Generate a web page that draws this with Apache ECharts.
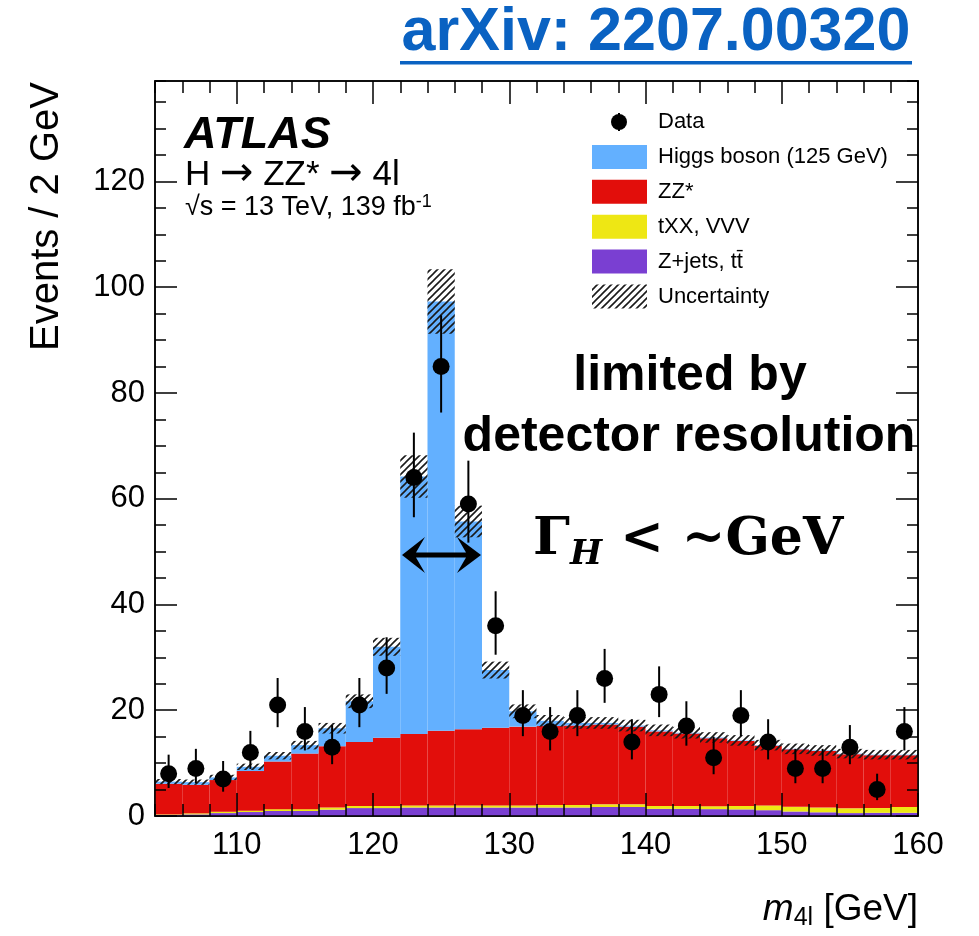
<!DOCTYPE html>
<html>
<head>
<meta charset="utf-8">
<script src="https://cdn.jsdelivr.net/npm/echarts@6/dist/echarts.min.js"></script>
<style>
html,body{margin:0;padding:0;background:#fff;}
#chart{width:979px;height:936px;}
</style>
</head>
<body>
<div id="chart"></div>
<script>
// ---- data ----
const binLow = [104,106,108,110,112,114,116,118,120,122,124,126,128,130,132,134,136,138,140,142,144,146,148,150,152,154,156,158];
const binWidth = 2;
const dataCounts = [8,9,7,12,21,16,13,21,28,64,85,59,36,19,16,19,26,14,23,17,11,19,14,9,9,13,5,16];
const dataLow  = [5.3,6.2,4.6,8.9,16.8,12.4,9.8,16.8,23.1,56.5,76.3,51.7,30.5,15.1,12.4,15.1,21.4,10.7,18.7,13.3,7.9,15.1,10.7,6.2,6.2,9.8,3.0,12.4];
const dataHigh = [11.6,12.7,10.4,16.1,26.1,20.6,17.2,26.1,33.8,72.5,94.7,67.2,42.5,23.8,20.6,23.8,31.6,18.3,28.3,21.7,15.0,23.8,18.3,12.7,12.7,17.2,8.0,20.6];
const zjets = [0.2,0.3,0.55,0.75,0.95,0.95,1.2,1.5,1.5,1.6,1.6,1.6,1.6,1.6,1.6,1.6,1.7,1.7,1.35,1.35,1.3,1.25,1.1,0.85,0.7,0.55,0.6,0.6];
const txxVVV = [0.1,0.2,0.25,0.25,0.35,0.35,0.4,0.4,0.4,0.4,0.4,0.4,0.4,0.4,0.5,0.5,0.5,0.5,0.55,0.55,0.55,0.65,0.9,0.9,0.9,0.9,0.9,1.1];
const zzStar = [5.8,5.4,6.0,7.5,9.0,10.5,11.6,12.1,12.9,13.5,14.1,14.4,14.7,14.9,14.9,15.0,15.1,14.7,14.1,13.7,12.85,12.3,11.3,10.85,10.7,10.25,10.0,9.8];
const higgs = [0.4,0.5,0.5,0.8,1.1,1.6,3.4,7.7,17.2,48.7,81.2,39.3,10.9,2.9,1.0,0.5,0.3,0.2,0.2,0.15,0.15,0.1,0.1,0.1,0.1,0.1,0.1,0.1];
const uncertainty = [0.5,0.5,0.5,0.6,0.7,0.8,1.0,1.3,1.7,4.0,6.1,3.0,1.6,1.3,1.1,1.1,1.1,1.1,1.1,1.1,1.0,1.0,1.0,1.0,1.0,0.9,0.9,0.9];
const xMajorTicks = [110,120,130,140,150,160];
const yMajorTicks = [0,20,40,60,80,100,120];
const legendNames = ['Data','Higgs boson (125 GeV)','ZZ*','tXX, VVV','Z+jets, tt\u0304','Uncertainty'];

const colors = {higgs:'#63B0FF', zz:'#E20E0B', txx:'#EEE714', zj:'#7A3FD2'};
const FONT = 'Liberation Sans, Arial, Helvetica, sans-serif';
const SERIF = 'DejaVu Serif, Liberation Serif, serif';

// hatch pattern
const hatch = document.createElement('canvas');
hatch.width = 7; hatch.height = 7;
(function(){
  const c = hatch.getContext('2d');
  c.strokeStyle = '#1a1a1a'; c.lineWidth = 1.6;
  c.beginPath();
  c.moveTo(-1,8); c.lineTo(8,-1);
  c.moveTo(-1,1); c.lineTo(1,-1);
  c.moveTo(6,8); c.lineTo(8,6);
  c.stroke();
})();
const hatchFill = {image: hatch, repeat: 'repeat'};

// build stacked layers
const layers = [
  {name:'Z+jets, tt\u0304', vals: zjets, color: colors.zj},
  {name:'tXX, VVV', vals: txxVVV, color: colors.txx},
  {name:'ZZ*', vals: zzStar, color: colors.zz},
  {name:'Higgs boson (125 GeV)', vals: higgs, color: colors.higgs}
];
const base = binLow.map(()=>0);
const series = [];
function rectRender(fill){
  return function(params, api){
    const a = api.coord([api.value(0), api.value(3)]);
    const b = api.coord([api.value(1), api.value(2)]);
    return {type:'rect', shape:{x:a[0], y:a[1], width:b[0]-a[0], height:b[1]-a[1]}, style:{fill: fill}};
  };
}
layers.forEach(L=>{
  const d = binLow.map((x,i)=>{ const y0 = base[i]; const y1 = y0 + L.vals[i]; base[i] = y1; return [x, x+binWidth, y0, y1]; });
  series.push({type:'custom', name:L.name, xAxisIndex:0, yAxisIndex:0, renderItem: rectRender(L.color), data:d, encode:{x:[0,1], y:[2,3]}, clip:true, z:1});
});
const totals = base.slice();
series.push({type:'custom', name:'Uncertainty', xAxisIndex:0, yAxisIndex:0, renderItem: rectRender(hatchFill),
  data: binLow.map((x,i)=>[x, x+binWidth, totals[i]-uncertainty[i], totals[i]+uncertainty[i]]), encode:{x:[0,1], y:[2,3]}, clip:true, z:1});
series.push({type:'custom', name:'Data errors', xAxisIndex:0, yAxisIndex:0,
  renderItem: function(params, api){
    const a = api.coord([api.value(0), api.value(1)]);
    const b = api.coord([api.value(0), api.value(2)]);
    return {type:'line', shape:{x1:a[0], y1:a[1], x2:b[0], y2:b[1]}, style:{stroke:'#000', lineWidth:2}};
  },
  data: binLow.map((x,i)=>[x+binWidth/2, dataLow[i], dataHigh[i]]), encode:{x:0, y:[1,2]}, z:1});
series.push({type:'scatter', name:'Data', xAxisIndex:0, yAxisIndex:0, symbol:'circle', symbolSize:17,
  itemStyle:{color:'#000', opacity:1}, data: binLow.map((x,i)=>[x+binWidth/2, dataCounts[i]]), z:1, silent:true});

function xAx(pos, major, labels){
  const o = {type:'value', min:104, max:160, interval:2, position:pos, offset:0, z:5, splitLine:{show:false},
    axisLine: {show: !major, onZero:false, lineStyle:{color:'#000', width:1.5}},
    axisTick:{show:true, inside:true, length: major?23:12, lineStyle:{color:'#000', width:1.5}},
    axisLabel:{show:false}};
  if (major) o.axisTick.customValues = xMajorTicks;
  if (labels) o.axisLabel = {show:true, customValues: xMajorTicks, color:'#000', fontSize:31, fontFamily:FONT, margin:14};
  return o;
}
function yAx(pos, major, labels){
  const o = {type:'value', min:0, max:139, interval:5, position:pos, offset:0, z:5, splitLine:{show:false},
    axisLine: {show: !major, onZero:false, lineStyle:{color:'#000', width:1.5}},
    axisTick:{show:true, inside:true, length: major?22:11, lineStyle:{color:'#000', width:1.5}},
    axisLabel:{show:false}};
  if (major) o.axisTick.customValues = yMajorTicks;
  if (labels) o.axisLabel = {show:true, customValues: yMajorTicks, color:'#000', fontSize:31, fontFamily:FONT, margin:10};
  return o;
}

// legend graphics
const legendX = 592, legendTextX = 658, legendY0 = 122, legendStep = 34.9;
const legendGraphics = [];
legendNames.forEach((nm,i)=>{
  const cy = legendY0 + i*legendStep;
  if (i===0){
    legendGraphics.push({type:'line', shape:{x1:619, y1:cy-9, x2:619, y2:cy+9}, style:{stroke:'#000', lineWidth:2}});
    legendGraphics.push({type:'circle', shape:{cx:619, cy:cy, r:8}, style:{fill:'#000'}});
  } else {
    const fill = i===1?colors.higgs : i===2?colors.zz : i===3?colors.txx : i===4?colors.zj : hatchFill;
    legendGraphics.push({type:'rect', shape:{x:legendX, y:cy-12, width:55, height:24}, style:{fill: fill}});
  }
  legendGraphics.push({type:'text', x:legendTextX, y:cy, style:{text:nm, font:'22px '+FONT, fill:'#000', verticalAlign:'middle', align:'left'}});
});

const option = {
  animation:false,
  backgroundColor:'#fff',
  grid:{left:155, right:61, top:81, bottom:120, show:true, borderColor:'#000', borderWidth:1.5, backgroundColor:'transparent'},
  xAxis:[xAx('bottom', false, true), xAx('bottom', true, false), xAx('top', false, false), xAx('top', true, false)],
  yAxis:[yAx('left', false, true), yAx('left', true, false), yAx('right', false, false), yAx('right', true, false)],
  series: series,
  graphic: [
    {type:'text', x:656, y:33, z:10, style:{text:'arXiv: 2207.00320', font:'bold 61px '+FONT, fill:'#0A62C2', align:'center', verticalAlign:'middle'}},
    {type:'rect', z:10, shape:{x:400, y:61, width:512, height:3.5}, style:{fill:'#0A62C2'}},
    {type:'text', x:47, y:82, rotation:Math.PI/2, style:{text:'Events / 2 GeV', font:'40px '+FONT, fill:'#000', align:'right', verticalAlign:'middle'}},
    {type:'text', x:918, y:910, style:{text:'{i|m}{s|4l}{t| [GeV]}', fill:'#000', align:'right', verticalAlign:'middle',
      rich:{i:{font:'italic 37px '+FONT, fill:'#000', verticalAlign:'middle', lineHeight:42},
            s:{font:'normal 25px '+FONT, fill:'#000', verticalAlign:'bottom', lineHeight:42},
            t:{font:'normal 37px '+FONT, fill:'#000', verticalAlign:'middle', lineHeight:42}}}},
    {type:'text', x:184, y:136, z:10, style:{text:'ATLAS', font:'italic bold 45px '+FONT, fill:'#000', align:'left', verticalAlign:'middle'}},
    {type:'text', x:185, y:175, z:10, style:{text:'{t|H }{a|\u2192}{t| ZZ* }{a|\u2192}{t| 4l}', fill:'#000', align:'left', verticalAlign:'middle',
      rich:{t:{font:'normal 35px '+FONT, fill:'#000', verticalAlign:'middle', lineHeight:40},
            a:{font:'normal 40px DejaVu Sans, sans-serif', fill:'#000', verticalAlign:'middle', lineHeight:40}}}},
    {type:'text', x:185, y:208, z:10, style:{text:'{t|\u221As = 13 TeV, 139 fb}{sup|-1}', fill:'#000', align:'left', verticalAlign:'middle',
      rich:{t:{font:'normal 27px '+FONT, fill:'#000', verticalAlign:'middle', lineHeight:30},
            sup:{font:'normal 18px '+FONT, fill:'#000', verticalAlign:'top', lineHeight:30}}}},
    {type:'text', x:690, y:376, z:10, style:{text:'limited by', font:'bold 50px '+FONT, fill:'#000', align:'center', verticalAlign:'middle'}},
    {type:'text', x:689, y:437, z:10, style:{text:'detector resolution', font:'bold 50px '+FONT, fill:'#000', align:'center', verticalAlign:'middle'}},
    {type:'text', x:533, y:540, z:10, style:{text:'{g|\u0393}{h|H}{g| < ~GeV}', fill:'#000', align:'left', verticalAlign:'middle',
      rich:{g:{font:'bold 52px '+SERIF, fill:'#000', verticalAlign:'middle', lineHeight:64}, h:{font:'italic bold 34px '+SERIF, fill:'#000', verticalAlign:'bottom', lineHeight:64}}}},
    {type:'polygon', z:10, shape:{points:[[402,555],[425,537],[416,552.5],[466,552.5],[457,537],[481,555],[457,573],[466,557.5],[416,557.5],[425,573]]}, style:{fill:'#000'}},
    ...legendGraphics
  ]
};
const chart = echarts.init(document.getElementById('chart'), null, {renderer:'canvas'});
chart.setOption(option);
</script>
</body>
</html>
